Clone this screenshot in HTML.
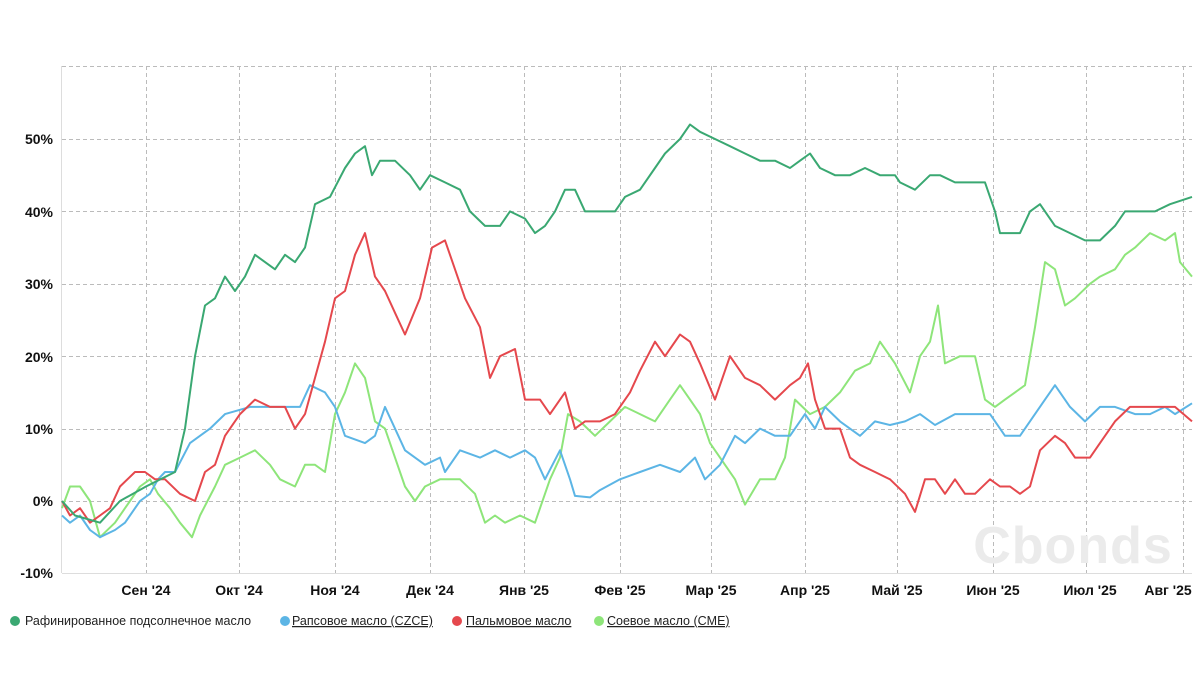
<!DOCTYPE html>
<html><head><meta charset="utf-8"><style>
body{margin:0;background:#fff;font-family:"Liberation Sans",Arial,sans-serif}
svg text{font-family:"Liberation Sans",Arial,sans-serif}
</style></head><body>
<svg id="s" width="1203" height="673" xmlns="http://www.w3.org/2000/svg">
<g stroke="#bbb" stroke-dasharray="4,3" stroke-width="1" fill="none">
<line x1="62" x2="1192" y1="66.5" y2="66.5"/>
<line x1="62" x2="1192" y1="139.5" y2="139.5"/>
<line x1="62" x2="1192" y1="211.5" y2="211.5"/>
<line x1="62" x2="1192" y1="284.5" y2="284.5"/>
<line x1="62" x2="1192" y1="356.5" y2="356.5"/>
<line x1="62" x2="1192" y1="429.5" y2="429.5"/>
<line x1="62" x2="1192" y1="501.5" y2="501.5"/>
<line x1="146.5" x2="146.5" y1="66" y2="573"/>
<line x1="239.5" x2="239.5" y1="66" y2="573"/>
<line x1="335.5" x2="335.5" y1="66" y2="573"/>
<line x1="430.5" x2="430.5" y1="66" y2="573"/>
<line x1="524.5" x2="524.5" y1="66" y2="573"/>
<line x1="620.5" x2="620.5" y1="66" y2="573"/>
<line x1="711.5" x2="711.5" y1="66" y2="573"/>
<line x1="805.5" x2="805.5" y1="66" y2="573"/>
<line x1="897.5" x2="897.5" y1="66" y2="573"/>
<line x1="993.5" x2="993.5" y1="66" y2="573"/>
<line x1="1086.5" x2="1086.5" y1="66" y2="573"/>
<line x1="1183.5" x2="1183.5" y1="66" y2="573"/>
</g>
<line x1="61.5" x2="61.5" y1="66" y2="573" stroke="#ddd"/>
<line x1="62" x2="1192" y1="573.5" y2="573.5" stroke="#ddd"/>
<text x="1073" y="563" font-size="52" font-weight="bold" fill="#ebebeb" text-anchor="middle" letter-spacing="1">Cbonds</text>
<g font-size="14" font-weight="bold" fill="#111" text-anchor="end">
<text x="53" y="144">50%</text><text x="53" y="217">40%</text><text x="53" y="289">30%</text>
<text x="53" y="362">20%</text><text x="53" y="434">10%</text><text x="53" y="506">0%</text><text x="53" y="578">-10%</text>
</g>
<g font-size="14" font-weight="bold" fill="#111" text-anchor="middle">
<text x="146" y="595">Сен '24</text><text x="239" y="595">Окт '24</text><text x="335" y="595">Ноя '24</text>
<text x="430" y="595">Дек '24</text><text x="524" y="595">Янв '25</text><text x="620" y="595">Фев '25</text>
<text x="711" y="595">Мар '25</text><text x="805" y="595">Апр '25</text><text x="897" y="595">Май '25</text>
<text x="993" y="595">Июн '25</text><text x="1090" y="595">Июл '25</text><text x="1168" y="595">Авг '25</text>
</g>
<g font-size="12.5" fill="#222">
<circle cx="15" cy="621" r="5" fill="#3aa872"/><text x="25" y="625">Рафинированное подсолнечное масло</text>
<circle cx="285" cy="621" r="5" fill="#5cb5e5"/><text x="292" y="625" text-decoration="underline">Рапсовое масло (CZCE)</text>
<circle cx="457" cy="621" r="5" fill="#e5484d"/><text x="466" y="625" text-decoration="underline">Пальмовое масло</text>
<circle cx="599" cy="621" r="5" fill="#8ee57a"/><text x="607" y="625" text-decoration="underline">Соевое масло (CME)</text>
</g>
<g id="lines" fill="none" stroke-width="2" stroke-linejoin="round"></g>
</svg>
<script>
var S=[
["#8ee57a",[62,-1,70,2,80,2,90,0,100,-5,115,-3,125,-1,140,2,150,3,158,1,170,-1,180,-3,192,-5,200,-2,215,2,225,5,240,6,255,7,270,5,280,3,295,2,305,5,315,5,325,4,335,12,345,15,355,19,365,17,375,11,385,10,395,6,405,2,415,0,425,2,440,3,460,3,475,1,485,-3,495,-2,505,-3,520,-2,535,-3,550,3,560,6,568,12,580,11,595,9,610,11,625,13,640,12,655,11,670,14,680,16,690,14,700,12,710,8,720,6,735,3,745,-0.5,760,3,775,3,785,6,795,14,810,12,825,13,840,15,855,18,870,19,880,22,895,19,910,15,920,20,930,22,938,27,945,19,960,20,975,20,985,14,995,13,1005,14,1015,15,1025,16,1035,24,1045,33,1055,32,1065,27,1075,28,1090,30,1100,31,1115,32,1125,34,1135,35,1150,37,1165,36,1175,37,1180,33,1192,31]],
["#5cb5e5",[62,-2,70,-3,80,-2,90,-4,100,-5,115,-4,125,-3,140,0,150,1,158,3,165,4,175,4,190,8,210,10,225,12,250,13,265,13,290,13,300,13,310,16,325,15,335,13,345,9,365,8,375,9,385,13,395,10,405,7,415,6,425,5,440,6,445,4,460,7,480,6,495,7,510,6,525,7,535,6,545,3,560,7,570,3,575,0.7,590,0.5,600,1.5,620,3,640,4,660,5,680,4,695,6,705,3,720,5,735,9,745,8,760,10,775,9,790,9,805,12,815,10,825,13,840,11,860,9,875,11,890,10.5,905,11,920,12,935,10.5,955,12,970,12,990,12,1005,9,1020,9,1035,12,1045,14,1055,16,1070,13,1085,11,1100,13,1115,13,1135,12,1150,12,1165,13,1175,12,1192,13.5]],
["#e5484d",[62,0,70,-2,80,-1,90,-3,100,-2,110,-1,120,2,135,4,145,4,155,3,165,3,180,1,195,0,205,4,215,5,225,9,240,12,255,14,270,13,285,13,295,10,305,12,315,17,325,22,335,28,345,29,355,34,365,37,375,31,385,29,395,26,405,23,420,28,432,35,445,36,455,32,465,28,480,24,490,17,500,20,515,21,525,14,540,14,550,12,565,15,575,10,585,11,600,11,615,12,630,15,640,18,655,22,665,20,680,23,690,22,700,19,715,14,730,20,745,17,760,16,775,14,790,16,800,17,808,19,815,14,825,10,840,10,850,6,860,5,875,4,890,3,905,1,915,-1.5,925,3,935,3,945,1,955,3,965,1,975,1,990,3,1000,2,1010,2,1020,1,1030,2,1040,7,1055,9,1065,8,1075,6,1090,6,1100,8,1115,11,1130,13,1145,13,1160,13,1175,13,1192,11]],
["#3aa872",[62,0,75,-2,100,-3,120,0,146,2,175,4,185,10,195,20,205,27,215,28,225,31,235,29,245,31,255,34,265,33,275,32,285,34,295,33,305,35,315,41,330,42,345,46,355,48,365,49,372,45,380,47,395,47,410,45,420,43,430,45,445,44,460,43,470,40,485,38,500,38,510,40,525,39,535,37,545,38,555,40,565,43,575,43,585,40,595,40,615,40,625,42,640,43,655,46,665,48,680,50,690,52,700,51,715,50,730,49,745,48,760,47,775,47,790,46,800,47,810,48,820,46,835,45,850,45,865,46,880,45,895,45,900,44,915,43,930,45,940,45,955,44,970,44,985,44,995,40,1000,37,1020,37,1030,40,1040,41,1055,38,1070,37,1085,36,1100,36,1115,38,1125,40,1140,40,1155,40,1170,41,1192,42]]];
var g=document.getElementById('lines'),h='';
S.forEach(function(s){var d=s[1],p=[];for(var i=0;i<d.length;i+=2)p.push(d[i]+','+(501-d[i+1]*7.24).toFixed(1));
h+='<polyline stroke="'+s[0]+'" points="'+p.join(' ')+'"/>';});
g.innerHTML=h;
</script>
</body></html>
